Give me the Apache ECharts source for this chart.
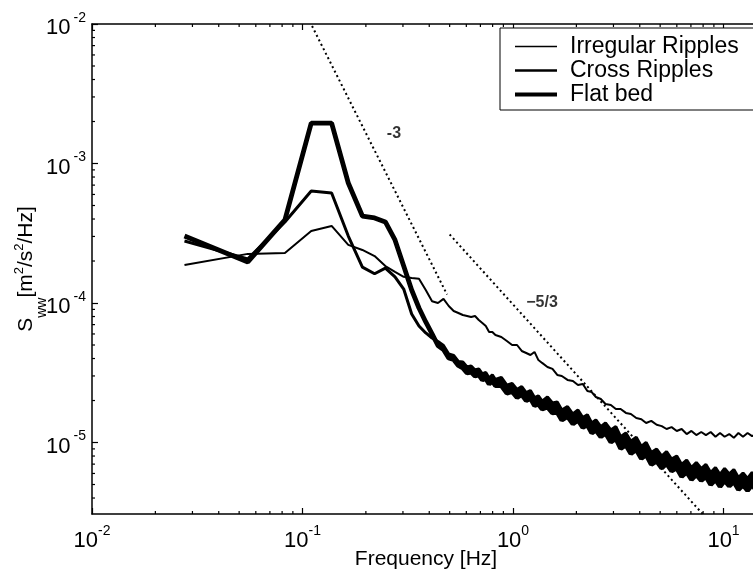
<!DOCTYPE html>
<html><head><meta charset="utf-8">
<script src="https://cdn.jsdelivr.net/npm/echarts@6/dist/echarts.min.js"></script>
<style>html,body{margin:0;padding:0;background:#fff}#c{width:753px;height:570px}</style>
</head><body><div id="c"></div>
<script>
// Frequency grid (Hz)
const freq = [0.0275,0.055,0.0825,0.11,0.1375,0.165,0.1925,0.22,0.2475,0.275,0.3025,0.33,0.3575,0.385,0.4125,0.44,0.4675,0.495,0.5225,0.55,0.5775,0.605,0.6325,0.66,0.6875,0.715,0.7425,0.77,0.7975,0.825,
0.88,0.935,0.99,1.045,1.1,1.155,1.21,1.265,1.32,1.375,1.4575,1.54,1.6225,1.705,1.815,1.925,2.035,2.145,2.255,2.365,2.475,2.6125,2.75,
2.915,3.08,3.245,3.4375,3.63,3.85,4.07,4.29,4.5375,4.8125,5.0875,5.3625,5.665,5.995,6.325,6.6825,7.04,7.425,7.8375,8.25,8.69,9.1575,9.625,10.12,10.6425,11.1925,11.77,12.375,13.0075,13.6675,14.3];

const irregular = [1.87e-4,2.25e-4,2.28e-4,3.28e-4,3.57e-4,2.61e-4,2.40e-4,2.17e-4,1.84e-4,1.67e-4,
1.54e-4,1.51e-4,1.49e-4,1.24e-4,1.03e-4,1.00e-4,1.07e-4,9.52e-5,8.76e-5,8.48e-5,
8.20e-5,8.07e-5,7.94e-5,8.07e-5,7.56e-5,7.19e-5,6.84e-5,6.20e-5,6.20e-5,5.90e-5,
5.71e-5,5.34e-5,5.00e-5,5.00e-5,4.53e-5,4.38e-5,4.24e-5,4.46e-5,3.90e-5,3.72e-5,
3.48e-5,3.37e-5,3.05e-5,3.00e-5,
2.81e-5,2.76e-5,2.58e-5,2.63e-5,2.34e-5,2.30e-5,2.12e-5,
2.05e-5,1.89e-5,
1.86e-5,1.74e-5,1.74e-5,1.63e-5,1.60e-5,1.50e-5,1.47e-5,1.38e-5,1.43e-5,1.34e-5,1.31e-5,1.25e-5,1.29e-5,1.21e-5,1.25e-5,1.15e-5,1.21e-5,1.13e-5,1.19e-5,1.13e-5,1.19e-5,1.10e-5,1.17e-5,1.10e-5,1.15e-5,1.08e-5,1.17e-5,1.10e-5,1.17e-5,1.11e-5,1.15e-5];

const crossRipples = [2.78e-4,2.07e-4,3.81e-4,6.35e-4,6.15e-4,3.02e-4,1.81e-4,1.62e-4,1.78e-4,1.54e-4,
1.26e-4,8.34e-5,6.84e-5,6.10e-5,5.61e-5,
5.30e-5,4.96e-5,4.31e-5,4.21e-5,3.81e-5,3.78e-5,3.48e-5,3.54e-5,3.31e-5,3.37e-5,3.10e-5,3.18e-5,2.90e-5,3.05e-5,2.83e-5,
2.93e-5,2.58e-5,2.65e-5,2.40e-5,2.52e-5,2.28e-5,2.36e-5,2.10e-5,2.16e-5,1.98e-5,
2.12e-5,1.92e-5,1.95e-5,1.71e-5,
1.81e-5,1.60e-5,1.71e-5,1.51e-5,1.58e-5,1.38e-5,1.45e-5,
1.30e-5,1.38e-5,
1.23e-5,1.30e-5,1.10e-5,1.17e-5,1.02e-5,1.09e-5,9.36e-6,1.00e-5,8.48e-6,8.98e-6,8.00e-6,8.62e-6,7.62e-6,8.00e-6,6.96e-6,7.49e-6,6.62e-6,7.19e-6,6.51e-6,6.96e-6,6.10e-6,6.62e-6,5.90e-6,6.51e-6,5.95e-6,6.41e-6,5.61e-6,6.05e-6,5.52e-6,6.10e-6,5.52e-6];

const flatBed = [3.02e-4,1.97e-4,3.94e-4,1.95e-3,1.95e-3,7.25e-4,4.20e-4,4.07e-4,3.81e-4,2.83e-4,
1.84e-4,1.24e-4,9.21e-5,7.31e-5,6.00e-5,
4.96e-5,4.64e-5,4.04e-5,3.94e-5,3.57e-5,3.42e-5,3.15e-5,3.20e-5,3.00e-5,3.05e-5,2.81e-5,2.88e-5,2.63e-5,2.76e-5,2.56e-5,
2.56e-5,2.26e-5,2.32e-5,2.10e-5,2.21e-5,2.00e-5,2.07e-5,1.84e-5,1.89e-5,1.74e-5,
1.80e-5,1.63e-5,1.65e-5,1.45e-5,
1.54e-5,1.36e-5,1.45e-5,1.28e-5,1.34e-5,1.17e-5,1.23e-5,
1.10e-5,1.17e-5,
1.01e-5,1.07e-5,9.06e-6,9.60e-6,8.34e-6,8.91e-6,7.68e-6,8.20e-6,6.96e-6,7.37e-6,6.57e-6,7.07e-6,6.25e-6,6.57e-6,5.71e-6,6.15e-6,5.43e-6,5.90e-6,5.34e-6,5.71e-6,5.00e-6,5.43e-6,4.84e-6,5.34e-6,4.88e-6,5.26e-6,4.61e-6,4.96e-6,4.53e-6,5.00e-6,4.53e-6];

// Where the two noisy spectra overlap into one dark band (index into freq)
const bandStart = 15;

// Reference slopes
const slope3X = [0.111, 0.486];
const slope3Y = [9.67e-3, 1.15e-4];
const slope53X = [0.5, 8.0];
const slope53Y = [3.1e-4, 3.05e-6];
const annotX = [0.272, 1.373];
const annotY = [1.63e-3, 1.0e-4];
const annotText = ['-3', '\u22125/3'];

// Axes
const xMin = 0.01, xMax = 14.11;
const yMin = 3.073e-6, yMax = 1e-2;
const minorTicksX = [0.02,0.03,0.04,0.05,0.06,0.07,0.08,0.09,0.2,0.3,0.4,0.5,0.6,0.7,0.8,0.9,2,3,4,5,6,7,8,9];
const minorTicksY = [4e-6,5e-6,6e-6,7e-6,8e-6,9e-6,2e-5,3e-5,4e-5,5e-5,6e-5,7e-5,8e-5,9e-5,2e-4,3e-4,4e-4,5e-4,6e-4,7e-4,8e-4,9e-4,2e-3,3e-3,4e-3,5e-3,6e-3,7e-3,8e-3,9e-3];
const seriesNames = ['Irregular Ripples', 'Cross Ripples', 'Flat bed'];
const seriesWidths = [2, 3, 4.8];
const legendWidths = [1.5, 2.5, 4];

const FONT = 'Liberation Sans, Arial, Helvetica, sans-serif';
const pair = (xs, ys) => xs.map((x, i) => [x, ys[i]]);

function powLabel(v) {
  const l = Math.log10(v);
  const e = Math.round(l);
  if (Math.abs(l - e) > 1e-3) return '';
  return '{b|10}{s|' + e + '}';
}
const xRich = {
  b: {fontSize: 22, lineHeight: 30, fontFamily: FONT, color: '#000'},
  s: {fontSize: 14, height: 10, verticalAlign: 'top', fontFamily: FONT, color: '#000'}
};
const yRich = {
  b: {fontSize: 22, lineHeight: 30, fontFamily: FONT, color: '#000'},
  s: {fontSize: 14, height: 10, verticalAlign: 'top', fontFamily: FONT, color: '#000', padding: [0, 0, 0, 3]}
};

function renderMinor(params, api) {
  const cs = params.coordSys;
  const p = api.coord([api.value(0), api.value(1)]);
  const st = {stroke: '#000', lineWidth: 1.2};
  if (api.value(2) === 0) {
    const yb = cs.y + cs.height, yt = cs.y;
    return {type: 'group', children: [
      {type: 'line', shape: {x1: p[0], y1: yb, x2: p[0], y2: yb - 3}, style: st},
      {type: 'line', shape: {x1: p[0], y1: yt, x2: p[0], y2: yt + 3}, style: st}
    ]};
  }
  return {type: 'line', shape: {x1: cs.x, y1: p[1], x2: cs.x + 3, y2: p[1]}, style: st};
}

function renderBand(params, api) {
  const cs = params.coordSys;
  const pts = [];
  for (let i = bandStart; i < freq.length; i++) pts.push(api.coord([freq[i], flatBed[i]]));
  for (let i = freq.length - 1; i >= bandStart; i--) pts.push(api.coord([freq[i], crossRipples[i]]));
  return {
    type: 'polygon', shape: {points: pts}, style: {fill: '#000'},
    clipPath: {type: 'rect', shape: {x: cs.x, y: cs.y, width: cs.width, height: cs.height}}
  };
}

const chart = echarts.init(document.getElementById('c'), null, {renderer: 'canvas'});
const axisLineStyle = {color: '#000', width: 1.5};
chart.setOption({
  animation: false,
  backgroundColor: '#fff',
  textStyle: {fontFamily: FONT},
  grid: {left: 92, top: 24, right: -2, bottom: 56, containLabel: false, outerBoundsMode: 'none'},
  legend: {
    data: seriesNames.map((n, i) => ({name: n, lineStyle: {width: legendWidths[i], color: '#000'}})),
    orient: 'vertical', left: 500, top: 28,
    padding: [7, 30, 4, 13],
    itemWidth: 42, itemHeight: 20, itemGap: 1,
    itemStyle: {opacity: 0},
    backgroundColor: '#fff', borderColor: '#000', borderWidth: 1, borderRadius: 0,
    textStyle: {fontFamily: FONT, fontSize: 23, color: '#000', padding: [0, 0, 0, 8]}
  },
  xAxis: [{
    type: 'log', logBase: 10, min: xMin, max: xMax,
    name: 'Frequency [Hz]', nameLocation: 'middle', nameGap: 35, nameMoveOverlap: false,
    nameTextStyle: {fontFamily: FONT, fontSize: 21, color: '#000', lineHeight: 21, padding: [0, 0, 0, 5]},
    axisLine: {onZero: false, lineStyle: axisLineStyle},
    axisTick: {inside: true, length: 6, lineStyle: {color: '#000', width: 1.2}},
    axisLabel: {margin: 12, formatter: powLabel, rich: xRich, showMaxLabel: false},
    splitLine: {show: false}, minorTick: {show: false}
  }, {
    type: 'log', logBase: 10, min: xMin, max: xMax, position: 'top',
    axisLine: {onZero: false, lineStyle: axisLineStyle},
    axisTick: {inside: true, length: 6, lineStyle: {color: '#000', width: 1.2}},
    axisLabel: {show: false}, splitLine: {show: false}
  }],
  yAxis: [{
    type: 'log', logBase: 10, min: yMin, max: yMax,
    name: '{S|S}{sub|ww}{t|[m}{sup|2}{t|/s}{sup|2}{t|/Hz]}',
    nameLocation: 'middle', nameRotate: 90, nameGap: 44, nameMoveOverlap: false,
    nameTextStyle: {rich: {
      S: {fontSize: 21, lineHeight: 44, fontFamily: FONT, color: '#000'},
      t: {fontSize: 21, lineHeight: 44, fontFamily: FONT, color: '#000'},
      sub: {fontSize: 14, height: 11, verticalAlign: 'bottom', fontFamily: FONT, color: '#000'},
      sup: {fontSize: 13, height: 30, verticalAlign: 'top', fontFamily: FONT, color: '#000'}
    }},
    axisLine: {onZero: false, lineStyle: axisLineStyle},
    axisTick: {inside: true, length: 6, lineStyle: {color: '#000', width: 1.2}},
    axisLabel: {margin: 6, padding: [8, 0, 0, 0], formatter: powLabel, rich: yRich, showMinLabel: false},
    splitLine: {show: false}
  }],
  series: [
    {name: seriesNames[0], type: 'line', data: pair(freq, irregular), symbol: 'none', showSymbol: false,
     lineStyle: {color: '#000', width: seriesWidths[0]}, itemStyle: {color: '#000'}, z: 5},
    {name: seriesNames[1], type: 'line', data: pair(freq, crossRipples), symbol: 'none', showSymbol: false,
     lineStyle: {color: '#000', width: seriesWidths[1]}, itemStyle: {color: '#000'}, z: 4},
    {name: seriesNames[2], type: 'line', data: pair(freq, flatBed), symbol: 'none', showSymbol: false,
     lineStyle: {color: '#000', width: seriesWidths[2]}, itemStyle: {color: '#000'}, z: 3},
    {name: 'band', type: 'custom', renderItem: renderBand, silent: true,
     data: [[freq[bandStart], flatBed[bandStart]]], z: 3},
    {name: 'slope -3', type: 'line', data: pair(slope3X, slope3Y), symbol: 'none',
     lineStyle: {color: '#000', width: 2, type: [2, 3]}, z: 2},
    {name: 'slope -5/3', type: 'line', data: pair(slope53X, slope53Y), symbol: 'none',
     lineStyle: {color: '#000', width: 2, type: [2, 3]}, z: 2},
    {name: 'annotations', type: 'scatter', symbolSize: 0,
     data: annotX.map((x, i) => ({value: [x, annotY[i]], name: annotText[i]})),
     label: {show: true, position: 'inside', formatter: '{b}', fontFamily: FONT, fontSize: 16, fontWeight: 'bold', color: '#000'}, z: 6},
    {name: 'minor', type: 'custom', renderItem: renderMinor, silent: true,
     data: minorTicksX.map(v => [v, 1e-4, 0]).concat(minorTicksY.map(v => [0.1, v, 1])), z: 10}
  ]
});
</script>
</body></html>
